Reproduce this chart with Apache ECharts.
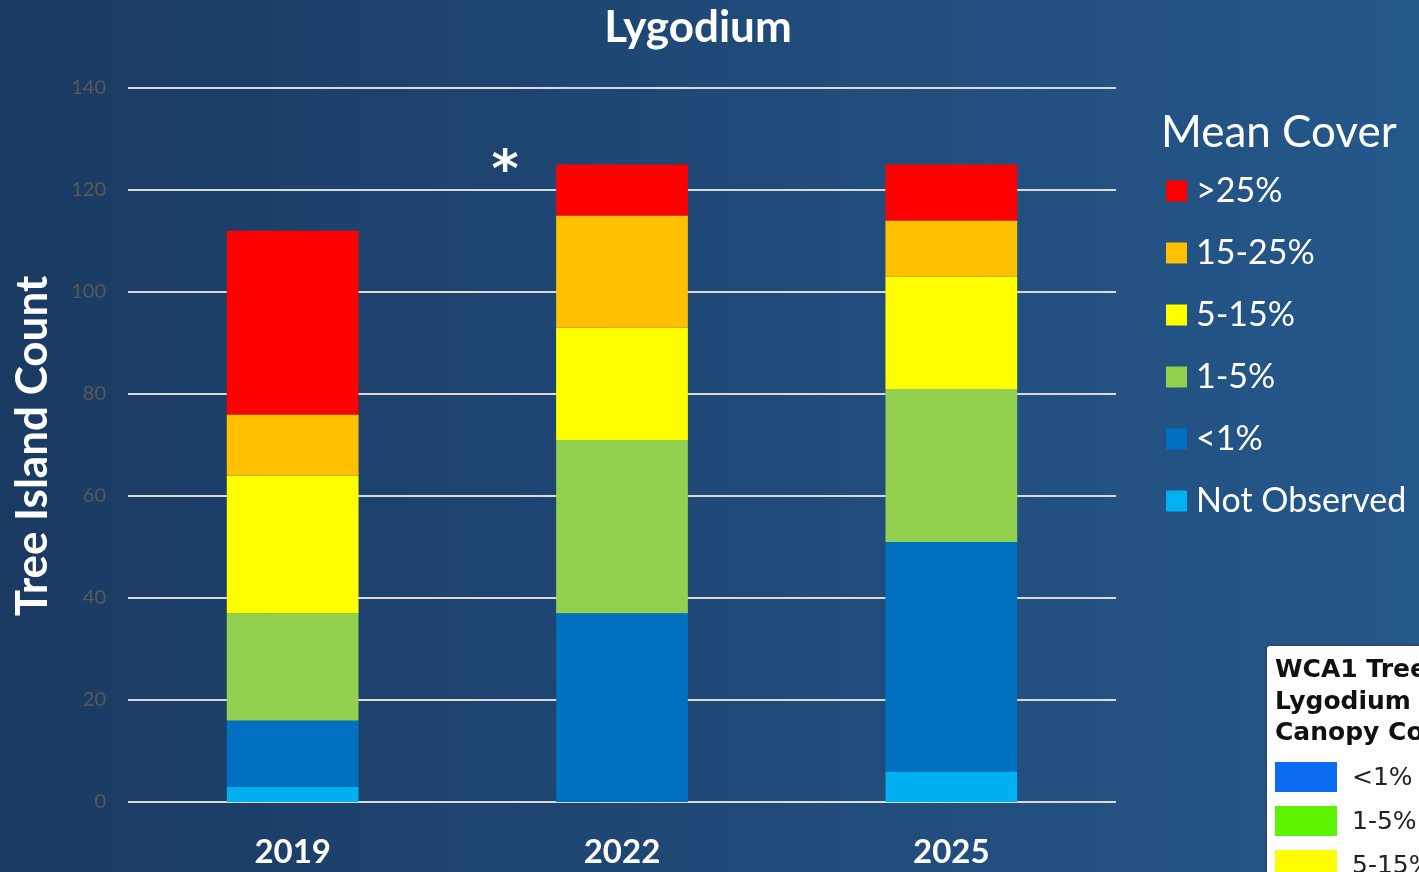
<!DOCTYPE html>
<html><head><meta charset="utf-8">
<script src="https://cdn.jsdelivr.net/npm/echarts@6/dist/echarts.min.js"></script>
<style>html,body{margin:0;padding:0;}#c{width:1419px;height:872px;}</style>
</head><body><div id="c"></div>
<script>
const years = ['2019', '2022', '2025'];
const notObserved = [3, 0, 6];
const lt1 = [13, 37, 45];
const c1to5 = [21, 34, 30];
const c5to15 = [27, 22, 22];
const c15to25 = [12, 22, 11];
const gt25 = [36, 10, 11];
const seriesNames = ['Not Observed', '<1%', '1-5%', '5-15%', '15-25%', '>25%'];
const seriesData = [notObserved, lt1, c1to5, c5to15, c15to25, gt25];
const seriesColors = ['#00b0f0', '#0070c0', '#92d050', '#ffff00', '#ffc000', '#ff0000'];
const legendOrder = ['>25%', '15-25%', '5-15%', '1-5%', '<1%', 'Not Observed'];
const insetLabels = ['<1%', '1-5%', '5-15%'];
const insetColors = ['#0a6cf2', '#5cf200', '#ffff00'];

const chart = echarts.init(document.getElementById('c'));
const F = 'Lato, "Open Sans", sans-serif';
chart.setOption({
  backgroundColor: new echarts.graphic.LinearGradient(0, 0, 1, 0, [
    {offset: 0, color: '#1a3a62'}, {offset: 1, color: '#25588b'}]),
  animation: false,
  grid: {left: 128, right: 303, top: 88, bottom: 70},
  legend: {
    data: legendOrder, orient: 'vertical', left: 1161, top: 169,
    icon: 'rect', itemWidth: 21, itemHeight: 21, itemGap: 28,
    textStyle: {color: '#fff', fontSize: 34, fontFamily: F, lineHeight: 34, padding: [0, 0, 0, 4]}
  },
  xAxis: {type: 'category', data: years,
    axisLine: {show: false}, axisTick: {show: false},
    axisLabel: {color: '#fff', fontSize: 33, fontWeight: 'bold', fontFamily: F, margin: 34}},
  yAxis: {type: 'value', min: 0, max: 140, interval: 20,
    axisLine: {show: false}, axisTick: {show: false},
    axisLabel: {color: '#595959', fontSize: 20, fontFamily: F, margin: 22},
    splitLine: {lineStyle: {color: '#d9d9d9', width: 2}}},
  series: seriesNames.map((n, i) => ({
    name: n, type: 'bar', stack: 'all', data: seriesData[i], barWidth: '40%',
    itemStyle: {color: seriesColors[i]}
  })),
  graphic: [
    {type: 'text', x: 698, y: 28,
      style: {text: 'Lygodium', fill: '#fff', font: 'bold 44px ' + F, textAlign: 'center', textVerticalAlign: 'middle'}},
    {type: 'text', x: 33, y: 446, rotation: Math.PI / 2,
      style: {text: 'Tree Island Count', fill: '#fff', font: 'bold 44px ' + F, textAlign: 'center', textVerticalAlign: 'middle'}},
    {type: 'text', x: 505, y: 172,
      style: {text: '*', fill: '#fff', font: 'bold 52px "DejaVu Sans"', textAlign: 'center', textVerticalAlign: 'middle'}},
    {type: 'text', x: 1161, y: 133,
      style: {text: 'Mean Cover', fill: '#fff', font: '44px ' + F, textAlign: 'left', textVerticalAlign: 'middle'}},
    {type: 'rect', shape: {x: 1266, y: 645, width: 170, height: 240, r: 4},
      style: {fill: '#ffffff', stroke: '#2a4a70', lineWidth: 2}},
    {type: 'text', x: 1275, y: 655,
      style: {text: 'WCA1 Tree Islands\nLygodium mean\nCanopy Cover', fill: '#111', font: 'bold 25px "DejaVu Sans"', lineHeight: 31.5, textAlign: 'left', textVerticalAlign: 'top'}},
  ].concat(insetLabels.flatMap((t, i) => [
    {type: 'rect', shape: {x: 1275, y: 762 + i * 44, width: 62, height: 30}, style: {fill: insetColors[i]}},
    {type: 'text', x: 1352, y: 778 + i * 44, style: {text: t, fill: '#222', font: '25px "DejaVu Sans"', textAlign: 'left', textVerticalAlign: 'middle'}}
  ]))
});
</script></body></html>
